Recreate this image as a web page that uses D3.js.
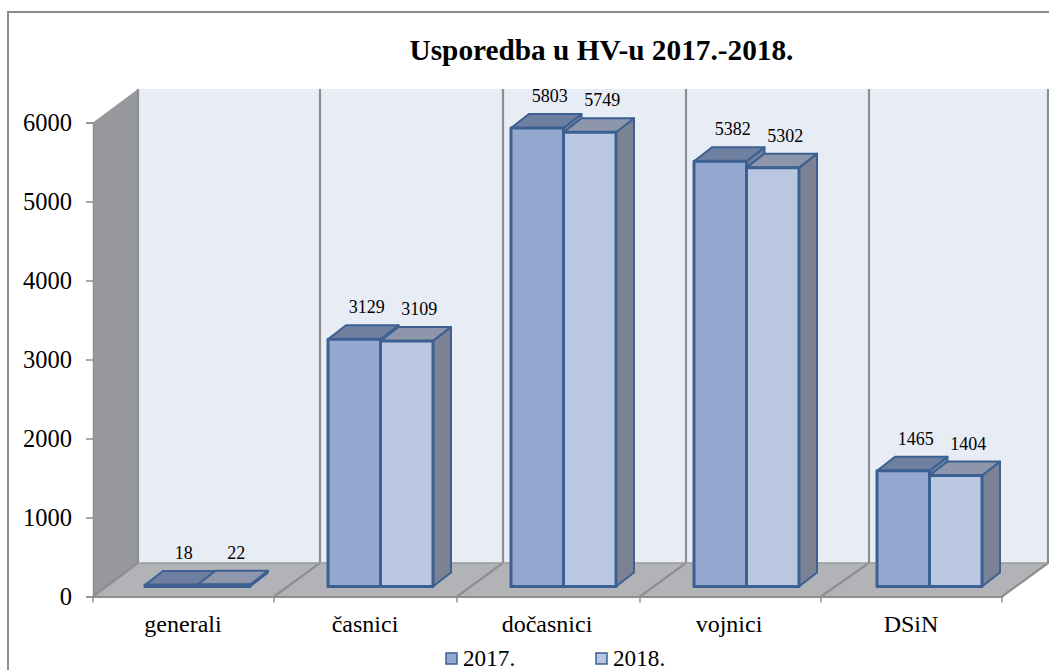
<!DOCTYPE html>
<html>
<head>
<meta charset="utf-8">
<script src="https://cdn.jsdelivr.net/npm/d3@7"></script>
<style>
html, body { margin: 0; padding: 0; background: #fff; overflow: hidden; }
svg { display: block; }
text { font-family: "Liberation Serif", serif; fill: #000; }
</style>
</head>
<body>
<div id="chart"></div>
<script>
const categories = ["generali", "časnici", "dočasnici", "vojnici", "DSiN"];
const years = ["2017.", "2018."];
const values2017 = [18, 3129, 5803, 5382, 1465];
const values2018 = [22, 3109, 5749, 5302, 1404];
const yTicks = [0, 1000, 2000, 3000, 4000, 5000, 6000];

const width = 1049, height = 670;

const svg = d3.select("#chart")
  .append("svg")
  .attr("width", width)
  .attr("height", height);

// category boundaries are not quite even in the picture, so piecewise scales
const edgeIdx = d3.range(categories.length + 1);
const frontEdge = d3.scaleLinear().domain(edgeIdx).range([93, 274, 457, 640, 821, 1002]);
const backEdge = d3.scaleLinear().domain(edgeIdx).range([138, 320, 503, 686, 869, 1048]);

const x = d3.scaleBand().domain(categories).range([92, 1002]);
const barX = d3.scaleBand().domain(categories).range([145, 1060]);
const y = d3.scaleLinear().domain([0, 6000]).range([596.5, 122.5]);

// 3d offsets, depth goes up and to the right
const wallDy = -33.5;
const barDy = -10;
const capDx = 18, capDy = -14;

// outer frame, the right side is cut off by the page
svg.append("path")
  .attr("d", `M8,${height}V12H${width}`)
  .attr("fill", "none")
  .attr("stroke", "#8c8c8c")
  .attr("stroke-width", 2);

svg.append("text")
  .attr("x", 601.5).attr("y", 60)
  .attr("text-anchor", "middle")
  .attr("font-size", 29.3)
  .attr("font-weight", "bold")
  .text("Usporedba u HV-u 2017.-2018.");

const poly = pts => pts.map(p => p.join(",")).join(" ");
const yBase = y(0), yTop = y(6000);
const xL = frontEdge(0), xR = frontEdge(5), bL = backEdge(0), bR = backEdge(5);

// back wall
svg.append("polygon")
  .attr("points", poly([[bL, yTop + wallDy], [bR, yTop + wallDy], [bR, yBase + wallDy], [bL, yBase + wallDy]]))
  .attr("fill", "#e8ecf5");

// side wall
svg.append("polygon")
  .attr("points", poly([[xL, yTop], [bL, yTop + wallDy], [bL, yBase + wallDy], [xL, yBase]]))
  .attr("fill", "#97989c");

// floor
svg.append("polygon")
  .attr("points", poly([[xL, yBase], [bL, yBase + wallDy], [bR, yBase + wallDy], [xR, yBase]]))
  .attr("fill", "#b1b3b7");

// gridlines on wall and floor at the category boundaries
svg.append("g").selectAll("path")
  .data(edgeIdx)
  .join("path")
  .attr("d", i => `M${frontEdge(i)},${yBase}L${backEdge(i)},${yBase + wallDy}V${yTop + wallDy}`)
  .attr("fill", "none")
  .attr("stroke", "#8e8e8e")
  .attr("stroke-width", 2.2);

svg.append("path")
  .attr("d", `M${bL},${yBase + wallDy}H${bR}`)
  .attr("stroke", "#9a9a9a")
  .attr("stroke-width", 1.5);

// axes
const xAxis = svg.append("g")
  .attr("transform", `translate(0, ${yBase})`)
  .call(d3.axisBottom(x).tickSize(0).tickPadding(18));
xAxis.selectAll("text").attr("font-size", 24).attr("font-family", "Liberation Serif");
xAxis.select(".domain").attr("stroke", "#8e8e8e").attr("stroke-width", 2);
xAxis.selectAll(".edge")
  .data(edgeIdx)
  .join("line")
  .attr("class", "edge")
  .attr("x1", i => frontEdge(i)).attr("x2", i => frontEdge(i))
  .attr("y1", 0).attr("y2", 6)
  .attr("stroke", "#8e8e8e")
  .attr("stroke-width", 1.5);

const yAxis = svg.append("g")
  .attr("transform", `translate(${xL}, 0)`)
  .call(d3.axisLeft(y).tickValues(yTicks).tickFormat(d3.format("d")).tickSize(7).tickPadding(14));
yAxis.selectAll("text").attr("font-size", 24.5).attr("font-family", "Liberation Serif");
yAxis.selectAll("line").attr("stroke", "#8e8e8e").attr("stroke-width", 1.5);
yAxis.select(".domain").attr("stroke", "#8e8e8e").attr("stroke-width", 1.5);

// bars
const inner = d3.scaleBand().domain(years).range([0, 105]);
const stroke = "#3b6091";
const seriesStyle = [
  {front: "#94a8d0", top: "#6f7f9f", side: "#6f7f9f"},
  {front: "#b9c7e0", top: "#8e96ab", side: "#7a8293"}
];
const series = [values2017, values2018];

years.forEach((yr, s) => {
  const rows = categories.map((c, i) => ({cat: c, value: series[s][i]}));
  const g = svg.append("g").selectAll("g")
    .data(rows)
    .join("g")
    .attr("stroke", stroke)
    .attr("stroke-width", 3)
    .attr("stroke-linejoin", "round");

  const left = d => barX(d.cat) + inner(yr);
  const right = d => left(d) + inner.bandwidth();
  const base = yBase + barDy;
  const top = d => base - (yBase - y(d.value));

  g.append("polygon")
    .attr("fill", seriesStyle[s].side)
    .attr("stroke-width", 2)
    .attr("points", d => poly([[right(d), top(d)], [right(d) + capDx, top(d) + capDy], [right(d) + capDx, base + capDy], [right(d), base]]));
  g.append("polygon")
    .attr("fill", seriesStyle[s].top)
    .attr("stroke-width", 2)
    .attr("points", d => poly([[left(d), top(d)], [left(d) + capDx, top(d) + capDy], [right(d) + capDx, top(d) + capDy], [right(d), top(d)]]));
  g.append("rect")
    .attr("fill", seriesStyle[s].front)
    .attr("x", left)
    .attr("y", top)
    .attr("width", inner.bandwidth())
    .attr("height", d => base - top(d));

  // value labels
  svg.append("g").selectAll("text")
    .data(rows)
    .join("text")
    .attr("x", d => left(d) + inner.bandwidth() / 2 + 12.5)
    .attr("y", d => top(d) - 26)
    .attr("text-anchor", "middle")
    .attr("font-size", 18)
    .text(d => d.value);
});

// legend
const legend = svg.append("g").selectAll("g")
  .data(years)
  .join("g")
  .attr("transform", (d, i) => `translate(${446 + i * 150}, 0)`);
legend.append("rect")
  .attr("x", 0).attr("y", 653)
  .attr("width", 11).attr("height", 11)
  .attr("fill", (d, i) => seriesStyle[i].front)
  .attr("stroke", stroke)
  .attr("stroke-width", 1.5);
legend.append("text")
  .attr("x", 17).attr("y", 666)
  .attr("font-size", 23.2)
  .text(d => d);
</script>
</body>
</html>
